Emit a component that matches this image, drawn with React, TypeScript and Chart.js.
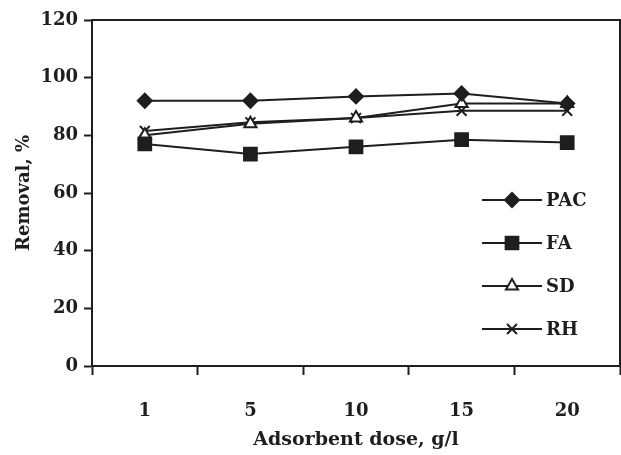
import React, { useEffect, useRef } from 'react';
import { Chart, registerables } from 'chart.js';
import { drawPoint } from 'chart.js/helpers';

Chart.register(...registerables);

// ---- data ----
const doses = ['1', '5', '10', '15', '20'];
const pac = [92, 92, 93.5, 94.5, 91];
const fa = [77, 73.5, 76, 78.5, 77.5];
const sd = [80, 84, 86, 91, 91];
const rh = [81.5, 84.5, 86, 88.5, 88.5];
const seriesNames = ['PAC', 'FA', 'SD', 'RH'];
const yMin = 0;
const yMax = 120;
const yStep = 20;
const xTitle = 'Adsorbent dose, g/l';
const yTitle = 'Removal, %';

const INK = '#1e1e1e';
const FONT = "'DejaVu Serif', 'Liberation Serif', serif";
const FS = 18;

const framePlugin = {
  id: 'frame',
  afterDatasetsDraw(chart: any) {
    const { ctx, chartArea } = chart;
    ctx.save();
    ctx.strokeStyle = INK;
    ctx.lineWidth = 2;
    ctx.beginPath();
    ctx.moveTo(chartArea.left, chartArea.top);
    ctx.lineTo(chartArea.right, chartArea.top);
    ctx.lineTo(chartArea.right, chartArea.bottom);
    ctx.stroke();
    ctx.restore();
  },
};

const legendPlugin = {
  id: 'insideLegend',
  afterDraw(chart: any) {
    const { ctx, chartArea } = chart;
    const x0 = chartArea.right - 138;
    const lineLen = 60;
    const y0 = chartArea.top + 180;
    const gap = 43;
    ctx.save();
    chart.data.datasets.forEach((ds: any, i: number) => {
      const y = y0 + i * gap;
      ctx.strokeStyle = INK;
      ctx.lineWidth = 2;
      ctx.beginPath();
      ctx.moveTo(x0, y);
      ctx.lineTo(x0 + lineLen, y);
      ctx.stroke();
      ctx.fillStyle = ds.pointBackgroundColor;
      ctx.strokeStyle = ds.pointBorderColor;
      ctx.lineWidth = ds.pointBorderWidth;
      drawPoint(ctx, { pointStyle: ds.pointStyle, radius: ds.pointRadius, rotation: 0, borderWidth: ds.pointBorderWidth }, x0 + lineLen / 2, y);
      ctx.fillStyle = INK;
      ctx.font = `bold ${FS}px ${FONT}`;
      ctx.textBaseline = 'middle';
      ctx.textAlign = 'left';
      ctx.fillText(ds.label, x0 + lineLen + 4, y + 1);
    });
    ctx.restore();
  },
};

export default function App() {
  const ref = useRef<HTMLCanvasElement>(null);
  useEffect(() => {
    const mk = (label: string, data: number[], style: string, r: number, fill: string) => ({
      label,
      data,
      borderColor: INK,
      borderWidth: 2,
      tension: 0,
      pointStyle: style,
      pointRadius: r,
      pointHoverRadius: r,
      pointBackgroundColor: fill,
      pointBorderColor: INK,
      pointBorderWidth: 2,
    });
    const chart = new Chart(ref.current as HTMLCanvasElement, {
      type: 'line',
      data: {
        labels: doses,
        datasets: [
          mk(seriesNames[0], pac, 'rectRot', 7, INK),
          mk(seriesNames[1], fa, 'rect', 9, INK),
          mk(seriesNames[2], sd, 'triangle', 7, '#ffffff'),
          mk(seriesNames[3], rh, 'crossRot', 7, INK),
        ],
      },
      options: {
        animation: false,
        responsive: true,
        maintainAspectRatio: false,
        layout: { padding: { left: 0, top: 20, right: 1, bottom: 0 } },
        plugins: { legend: { display: false }, tooltip: { enabled: false } },
        scales: {
          x: {
            type: 'category',
            offset: true,
            grid: { display: true, offset: true, drawOnChartArea: false, drawTicks: true, tickLength: 9, tickWidth: 2, color: INK },
            border: { display: true, color: INK, width: 2 },
            ticks: { color: INK, font: { family: FONT, weight: 'bold', size: FS }, padding: 26, maxRotation: 0 },
            title: { display: true, text: xTitle, color: INK, font: { family: FONT, weight: 'bold', size: 19 }, padding: { top: 0, bottom: 4 } },
            afterFit: (s: any) => { s.height = 89; },
          },
          y: {
            min: yMin,
            max: yMax,
            ticks: { stepSize: yStep, color: INK, font: { family: FONT, weight: 'bold', size: FS }, padding: 6 },
            grid: { display: true, drawOnChartArea: false, drawTicks: true, tickLength: 8, tickWidth: 2, color: INK },
            border: { display: true, color: INK, width: 2 },
            title: { display: true, text: yTitle, color: INK, font: { family: FONT, weight: 'bold', size: FS }, padding: { top: 14, bottom: 0 } },
            afterFit: (s: any) => { s.width = 92; },
          },
        },
      } as any,
      plugins: [framePlugin, legendPlugin],
    });
    return () => chart.destroy();
  }, []);
  return (
    <div style={{ position: 'fixed', left: 0, top: 0, width: 621, height: 455, overflow: 'hidden', background: '#fff' }}>
      <div style={{ position: 'relative', width: 631, height: 455 }}>
        <canvas ref={ref} />
      </div>
    </div>
  );
}
